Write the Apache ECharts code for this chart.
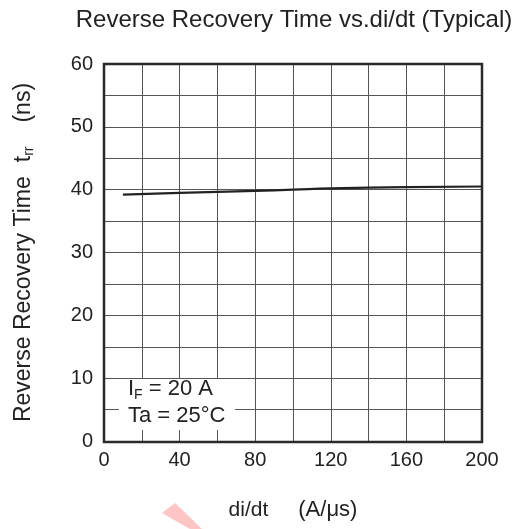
<!DOCTYPE html>
<html><head><meta charset="utf-8">
<script src="https://cdn.jsdelivr.net/npm/echarts@6/dist/echarts.min.js"></script>
<style>html,body{margin:0;padding:0;background:#fff}#c{width:518px;height:529px}</style>
</head><body><div id="c"></div>
<script>
const titleText = 'Reverse Recovery Time vs.di/dt (Typical)';
const xTicks = [0, 40, 80, 120, 160, 200];
const yTicks = [0, 10, 20, 30, 40, 50, 60];
const didt = [10, 40, 80, 100, 120, 160, 200];
const trr = [39.2, 39.5, 39.8, 40.0, 40.2, 40.4, 40.5];

const F = 'Arial, "Liberation Sans", Helvetica, sans-serif';
const C = '#222';
const chart = echarts.init(document.getElementById('c'), null, {renderer: 'canvas'});
chart.setOption({
  animation: false,
  backgroundColor: '#fff',
  title: {
    text: titleText, left: 289, top: 3, textAlign: 'center',
    textStyle: {fontFamily: F, fontSize: 24, fontWeight: 'normal', color: C}
  },
  grid: {left: 104, right: 36, top: 64, bottom: 88, containLabel: false},
  xAxis: {
    type: 'value', min: xTicks[0], max: xTicks[xTicks.length - 1], interval: 40,
    name: '{a|di/dt}{b|(A/\u03bcs)}', nameLocation: 'middle', nameGap: 58,
    nameTextStyle: {fontFamily: F, fontSize: 21, color: C,
      rich: {a: {fontFamily: F, fontSize: 21, color: C}, b: {fontFamily: F, fontSize: 22, color: C, padding: [0, 0, 0, 30]}}},
    axisLine: {show: false}, axisTick: {show: false},
    axisLabel: {fontFamily: F, fontSize: 20, color: C, margin: 9},
    splitLine: {show: true, lineStyle: {color: '#555', width: 1}},
    minorTick: {show: false, splitNumber: 2},
    minorSplitLine: {show: true, lineStyle: {color: '#555', width: 1}}
  },
  yAxis: {
    type: 'value', min: yTicks[0], max: yTicks[yTicks.length - 1], interval: 10,
    name: '{a|Reverse Recovery Time}{t|t}{s|rr}{c|(ns)}', nameLocation: 'middle', nameGap: 68,
    nameTextStyle: {fontFamily: F, fontSize: 23, color: C,
      rich: {
        a: {fontFamily: F, fontSize: 23, color: C},
        t: {fontFamily: F, fontSize: 23, color: C, padding: [0, 0, 0, 14]},
        s: {fontFamily: F, fontSize: 14, color: C, verticalAlign: 'bottom', padding: [10, 0, 0, 0]},
        c: {fontFamily: F, fontSize: 23, color: C, padding: [0, 0, 0, 24]}
      }},
    axisLine: {show: false}, axisTick: {show: false},
    axisLabel: {fontFamily: F, fontSize: 20, color: C, margin: 11},
    splitLine: {show: true, lineStyle: {color: '#555', width: 1}},
    minorTick: {show: false, splitNumber: 2},
    minorSplitLine: {show: true, lineStyle: {color: '#555', width: 1}}
  },
  graphic: [
    {type: 'rect', z: 10, shape: {x: 104, y: 64, width: 378, height: 378}, style: {fill: 'none', stroke: '#2a2a2a', lineWidth: 2.5}},
    {type: 'rect', z: 11, shape: {x: 119, y: 379, width: 116, height: 51}, style: {fill: '#fff'}},
    {type: 'text', z: 12, left: 128, top: 376, style: {
      text: '{a|I}{s|F}{a| = 20 A}\n{a|Ta = 25\u00b0C}', fill: C,
      rich: {a: {fontFamily: F, fontSize: 22, color: C, lineHeight: 27}, s: {fontFamily: F, fontSize: 14, color: C, verticalAlign: 'bottom', lineHeight: 27, padding: [12, 0, 0, 0]}}
    }},
    {type: 'polygon', z: 5, shape: {points: [[162, 513], [175, 503], [202, 529], [190, 529]]}, style: {fill: '#ffc4c4'}}
  ],
  series: [{
    type: 'line', data: didt.map((x, i) => [x, trr[i]]), smooth: true, showSymbol: false,
    lineStyle: {color: C, width: 2.2}, z: 8
  }]
});
</script></body></html>
